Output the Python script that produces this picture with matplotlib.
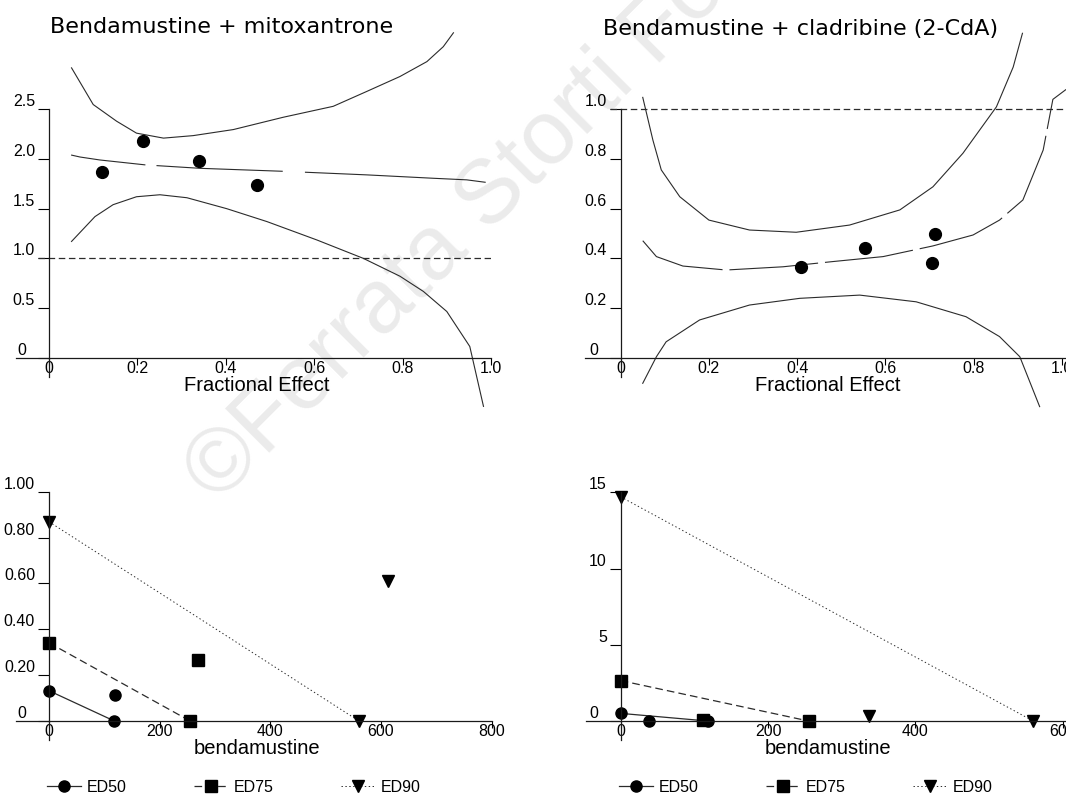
import matplotlib
matplotlib.use('Agg')
import matplotlib.pyplot as plt
from matplotlib.transforms import ScaledTranslation
from matplotlib.lines import Line2D

plt.rcParams['font.family'] = ['Liberation Sans', 'DejaVu Sans']
plt.rcParams['lines.scale_dashes'] = False

W, H = 1066, 796
LINE = '#2b2b2b'

# --- Bendamustine + mitoxantrone: combination index vs fractional effect
mito_fa = [0.119, 0.213, 0.339, 0.471]
mito_ci = [1.866, 2.178, 1.977, 1.735]
mito_fit_fa = [0.05, 0.07, 0.115, 0.219, 0.342, 0.53, 0.583, 0.719, 0.869, 0.945, 0.988]
mito_fit_ci = [2.04, 2.02, 1.99, 1.94, 1.906, 1.876, 1.866, 1.84, 1.806, 1.79, 1.765]
mito_up_fa = [0.051, 0.1, 0.153, 0.198, 0.259, 0.326, 0.417, 0.53, 0.643, 0.719, 0.794, 0.855, 0.892, 0.915]
mito_up_ci = [2.917, 2.548, 2.38, 2.26, 2.21, 2.235, 2.296, 2.42, 2.53, 2.68, 2.83, 2.98, 3.13, 3.27]
mito_lo_fa = [0.051, 0.104, 0.145, 0.198, 0.251, 0.312, 0.402, 0.493, 0.606, 0.711, 0.794, 0.847, 0.9, 0.952, 0.983]
mito_lo_ci = [1.17, 1.42, 1.54, 1.62, 1.64, 1.61, 1.50, 1.37, 1.185, 1.0, 0.82, 0.667, 0.465, 0.113, -0.49]

# --- Bendamustine + cladribine
clad_fa = [0.408, 0.553, 0.713, 0.706]
clad_ci = [0.366, 0.44, 0.497, 0.382]
clad_fit_fa = [0.05, 0.081, 0.141, 0.239, 0.368, 0.481, 0.595, 0.708, 0.799, 0.859, 0.912, 0.958, 0.98, 1.01]
clad_fit_ci = [0.471, 0.407, 0.369, 0.353, 0.366, 0.387, 0.407, 0.45, 0.494, 0.554, 0.635, 0.836, 1.04, 1.08]
clad_up_fa = [0.05, 0.073, 0.092, 0.134, 0.2, 0.292, 0.398, 0.519, 0.633, 0.708, 0.776, 0.852, 0.89, 0.911]
clad_up_ci = [1.048, 0.876, 0.756, 0.648, 0.554, 0.514, 0.505, 0.534, 0.595, 0.688, 0.823, 1.01, 1.17, 1.306]
clad_lo_fa = [0.05, 0.081, 0.103, 0.179, 0.292, 0.406, 0.542, 0.67, 0.783, 0.859, 0.905, 0.95]
clad_lo_ci = [-0.103, 0.004, 0.064, 0.152, 0.212, 0.239, 0.252, 0.225, 0.165, 0.085, 0.004, -0.197]

ADDITIVE = 1.0

# --- isobolograms: [bendamustine alone, partner alone] and combination point
iso_labels = ['ED50', 'ED75', 'ED90']
mito_iso_bend = [[0, 118], [0, 255], [0, 560]]
mito_iso_other = [[0.132, 0], [0.341, 0], [0.869, 0]]
mito_combo_bend = [119, 269, 612]
mito_combo_other = [0.113, 0.266, 0.61]

clad_iso_bend = [[0, 118], [0, 255], [0, 560]]
clad_iso_other = [[0.5, 0], [2.65, 0], [14.7, 0]]
clad_combo_bend = [39, 112, 337]
clad_combo_other = [0.0, 0.05, 0.35]

iso_markers = ['o', 's', 'v']
iso_styles = ['-', (0, (5.5, 3)), (0, (1, 1.8))]
iso_widths = [0.9, 0.9, 0.7]

fig = plt.figure(figsize=(W / 100, H / 100), dpi=100)


def make_axes(xlim, ylim, x0, xs, y0, ys):
    # x0/y0: pixel of data origin, xs/ys: pixels per data unit
    left = x0 + xlim[0] * xs
    right = x0 + xlim[1] * xs
    top = y0 - ylim[1] * ys
    bottom = y0 - ylim[0] * ys
    ax = fig.add_axes([left / W, 1 - bottom / H, (right - left) / W, (bottom - top) / H])
    ax.set_xlim(xlim)
    ax.set_ylim(ylim)
    ax.patch.set_alpha(0)
    return ax


def style_axes(ax, yticks, ylabels, xticks, xlabels, ybounds, xbounds, xlabel, label_px):
    for s in ['top', 'right']:
        ax.spines[s].set_visible(False)
    for s in ['left', 'bottom']:
        ax.spines[s].set_position(('data', 0))
        ax.spines[s].set_color('#1a1a1a')
        ax.spines[s].set_linewidth(0.9)
    ax.spines['left'].set_bounds(*ybounds)
    ax.spines['bottom'].set_bounds(*xbounds)
    ax.set_yticks(yticks, ylabels)
    ax.set_xticks(xticks, xlabels)
    ax.tick_params(axis='y', direction='out', length=8, width=0.8, pad=2, labelsize=11.5)
    ax.tick_params(axis='x', direction='out', length=5, width=0.8, pad=-2.5, labelsize=11.5)
    for lab in ax.get_yticklabels():
        lab.set_va('bottom')
    zero = ax.yaxis.get_major_ticks()[0].label1
    zero.set_transform(zero.get_transform() + ScaledTranslation(-0.09, 0, fig.dpi_scale_trans))
    ax.set_xlabel(xlabel, fontsize=14.5)
    ax.xaxis.set_label_coords(label_px[0] / W, 1 - label_px[1] / H, transform=fig.transFigure)


def ci_panel(ax, fa, ci, fit_fa, fit_ci, up_fa, up_ci, lo_fa, lo_ci, fit_dashes, right):
    ax.hlines(ADDITIVE, -0.025, right, colors=LINE, lw=0.9, linestyles=(0, (4.7, 2.6)))
    ax.plot(up_fa, up_ci, color=LINE, lw=0.8)
    ax.plot(lo_fa, lo_ci, color=LINE, lw=0.8)
    ax.plot(fit_fa, fit_ci, color=LINE, lw=0.8, dashes=fit_dashes)
    ax.plot(fa, ci, 'o', color='black', ms=8.5, zorder=5)


def iso_panel(ax, iso_bend, iso_other, combo_bend, combo_other, legend_x):
    handles = []
    for i in range(3):
        ax.plot(iso_bend[i], iso_other[i], color=LINE, lw=iso_widths[i], ls=iso_styles[i],
                marker=iso_markers[i], mfc='black', mec='black', ms=8, clip_on=False)
        ax.plot(combo_bend[i], combo_other[i], marker=iso_markers[i], color='black', ms=8,
                ls='none', clip_on=False)
        handles.append(Line2D([], [], color=LINE, lw=iso_widths[i], ls=iso_styles[i],
                              marker=iso_markers[i], mfc='black', mec='black', ms=8))
    ax.legend(handles, iso_labels, loc='center left', bbox_to_anchor=(legend_x / W, 1 - 787 / H),
              bbox_transform=fig.transFigure, ncol=3, frameon=False, borderpad=0, borderaxespad=0,
              handlelength=2.1, handletextpad=0.4, columnspacing=4.2, fontsize=11.5)


# top left
ax1 = make_axes((-0.075, 1.0), (-0.6, 3.4), 49, 442, 357.7, 99.36)
style_axes(ax1, [0, 0.5, 1.0, 1.5, 2.0, 2.5], ['0', '0.5', '1.0', '1.5', '2.0', '2.5'],
           [0, 0.2, 0.4, 0.6, 0.8, 1.0], ['0', '0.2', '0.4', '0.6', '0.8', '1.0'],
           (-0.19, 2.5), (-0.075, 1.0), 'Fractional Effect', (257, 376))
ci_panel(ax1, mito_fa, mito_ci, mito_fit_fa, mito_fit_ci, mito_up_fa, mito_up_ci,
         mito_lo_fa, mito_lo_ci, [54, 8, 91, 16, 400, 1], 1.0)

# top right
ax2 = make_axes((-0.08, 1.012), (-0.3, 1.35), 620.7, 441, 357.7, 248.4)
style_axes(ax2, [0, 0.2, 0.4, 0.6, 0.8, 1.0], ['0', '0.2', '0.4', '0.6', '0.8', '1.0'],
           [0, 0.2, 0.4, 0.6, 0.8, 1.0], ['0', '0.2', '0.4', '0.6', '0.8', '1.0'],
           (-0.076, 1.0), (-0.08, 1.012), 'Fractional Effect', (828, 376))
ci_panel(ax2, clad_fa, clad_ci, clad_fit_fa, clad_fit_ci, clad_up_fa, clad_up_ci,
         clad_lo_fa, clad_lo_ci, [64, 5], 1.012)

# bottom left
ax3 = make_axes((-60, 800), (-0.15, 1.05), 49, 0.5534, 721, 229.3)
style_axes(ax3, [0, 0.2, 0.4, 0.6, 0.8, 1.0], ['0', '0.20', '0.40', '0.60', '0.80', '1.00'],
           [0, 200, 400, 600, 800], ['0', '200', '400', '600', '800'],
           (-0.083, 1.0), (-60, 800), 'bendamustine', (257, 739))
iso_panel(ax3, mito_iso_bend, mito_iso_other, mito_combo_bend, mito_combo_other, 47)

# bottom right
ax4 = make_axes((-47, 605), (-2.5, 16.5), 620.7, 0.7365, 721, 15.25)
style_axes(ax4, [0, 5, 10, 15], ['0', '5', '10', '15'],
           [0, 200, 400, 600], ['0', '200', '400', '600'],
           (-1.25, 15), (-47, 605), 'bendamustine', (828, 739))
iso_panel(ax4, clad_iso_bend, clad_iso_other, clad_combo_bend, clad_combo_other, 619)

fig.text(50 / W, 1 - 33 / H, 'Bendamustine + mitoxantrone', family='DejaVu Sans',
         fontsize=16, va='baseline', ha='left')
fig.text(603 / W, 1 - 35 / H, 'Bendamustine + cladribine (2-CdA)', family='DejaVu Sans',
         fontsize=16, va='baseline', ha='left')

fig.text(217 / W, 1 - 504 / H, '©Ferrata Storti Foundation', rotation=45, rotation_mode='anchor',
         ha='left', va='baseline', fontsize=65, color='#ebebeb', zorder=-5)

fig.savefig('out.png', dpi=100, facecolor='white')
